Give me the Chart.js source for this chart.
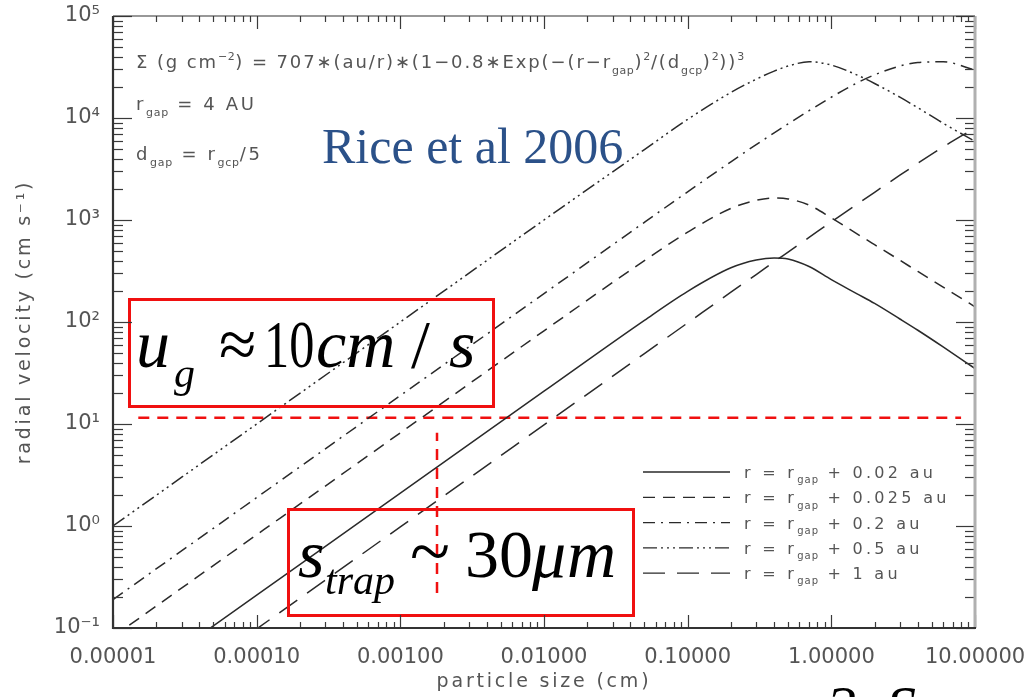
<!DOCTYPE html>
<html>
<head>
<meta charset="utf-8">
<script src="https://cdn.jsdelivr.net/npm/chart.js@4.4.1/dist/chart.umd.min.js"></script>
<style>
  html, body { margin: 0; padding: 0; background: #fff; }
  canvas { display: block; }
</style>
</head>
<body>
<canvas id="velChart" width="1030" height="697"></canvas>
<script>
// particle size grid (cm), shared by every curve
const sizeCm = [1e-5, 1e-4, 1e-3, 1e-2, 0.05, 0.1, 0.2, 0.3, 0.4, 0.5, 0.7, 1, 1.5, 2, 3, 4, 6, 10];

// radial velocity (cm/s) at r = r_gap + offset
const vel002 = [0.021, 0.21, 2.1, 21, 104, 200, 340, 405, 425, 415, 350, 260, 190, 152, 107, 83, 57, 35];
const vel0025 = [0.082, 0.82, 8.2, 82, 400, 760, 1300, 1560, 1645, 1610, 1400, 1050, 736, 573, 403, 313, 220, 141];
const vel02 = [0.19, 1.9, 19, 190, 950, 1890, 3720, 5480, 7150, 8750, 11800, 16000, 22000, 26500, 32300, 35000, 35600, 29500];
const vel05 = [1.0, 10, 100, 1000, 4900, 9700, 17800, 24000, 28800, 32300, 35600, 33000, 26500, 21800, 16000, 12600, 8900, 5900];
const vel1 = [0.0098, 0.098, 0.98, 9.8, 49, 98, 196, 292, 390, 485, 675, 960, 1420, 1870, 2750, 3600, 5200, 8000];

const offsetsAu = ['0.02', '0.025', '0.2', '0.5', '1'];

// gas velocity and trapping size guides
const ugX = [1.5e-5, 8];
const ugY = [11.5, 11.5];
const strapX = [0.0018, 0.0018];
const strapY = [0.22, 8.2];

const xTickValues = [1e-5, 1e-4, 1e-3, 1e-2, 1e-1, 1, 10];
const xTickLabels = ['0.00001', '0.00010', '0.00100', '0.01000', '0.10000', '1.00000', '10.00000'];
const yTickValues = [1e-1, 1, 10, 100, 1e3, 1e4, 1e5];
const yTickLabels = ['10⁻¹', '10⁰', '10¹', '10²', '10³', '10⁴', '10⁵'];

const ink = '#2a2a2a';
const grey = '#555555';
const red = '#f01010';
const sans = '"DejaVu Sans"';
const serif = '"Liberation Serif"';

function pts(xs, ys) {
  return xs.map((x, i) => ({ x: x, y: ys[i] }));
}

const dashes = [[], [12, 8], [12, 6, 2, 6], [14, 4, 2, 4, 2, 4, 2, 4], [22, 12]];
const curves = [vel002, vel0025, vel02, vel05, vel1];

const datasets = curves.map((v, i) => ({
  label: 'r = rgap + ' + offsetsAu[i] + ' au',
  data: pts(sizeCm, v),
  borderColor: ink,
  borderWidth: 1.5,
  borderDash: dashes[i],
  pointRadius: 0,
  cubicInterpolationMode: 'monotone'
}));
datasets.push({
  label: 'u_g', data: pts(ugX, ugY), borderColor: red, borderWidth: 2.5,
  borderDash: [11, 8], pointRadius: 0
});
datasets.push({
  label: 's_trap', data: pts(strapX, strapY), borderColor: red, borderWidth: 2.5,
  borderDash: [11, 8], pointRadius: 0
});

// text with sub/superscripts: kind 'n' normal, 'b' below, 'p' power
function drawRich(ctx, x, y, parts, size, spacing) {
  parts.forEach(([text, kind]) => {
    const small = kind !== 'n';
    const fs = small ? Math.round(size * 0.62) : size;
    const dy = kind === 'b' ? size * 0.33 : kind === 'p' ? -size * 0.45 : 0;
    ctx.font = fs + 'px ' + sans;
    ctx.letterSpacing = (small ? spacing * 0.3 : spacing) + 'px';
    ctx.fillText(text, x, y + dy);
    x += ctx.measureText(text).width;
  });
  ctx.letterSpacing = '0px';
  return x;
}

function seg(ctx, text, x, y, font, sx) {
  ctx.font = font;
  if (sx) {
    ctx.save();
    ctx.translate(x, y);
    ctx.scale(sx, 1);
    ctx.fillText(text, 0, 0);
    ctx.restore();
  } else {
    ctx.fillText(text, x, y);
  }
}

const decorations = {
  id: 'decorations',
  afterDatasetsDraw(chart) {
    const ctx = chart.ctx;
    const a = chart.chartArea;
    ctx.save();
    ctx.textBaseline = 'alphabetic';
    ctx.textAlign = 'left';

    // surface density note
    ctx.fillStyle = grey;
    drawRich(ctx, 136, 68, [
      ['Σ (g cm', 'n'], ['−2', 'p'], [') = 707∗(au/r)∗(1−0.8∗Exp(−(r−r', 'n'], ['gap', 'b'],
      [')', 'n'], ['2', 'p'], ['/(d', 'n'], ['gcp', 'b'], [')', 'n'], ['2', 'p'], ['))', 'n'], ['3', 'p']
    ], 18, 1.9);
    drawRich(ctx, 136, 110, [['r', 'n'], ['gap', 'b'], [' = 4 AU', 'n']], 18, 2.6);
    drawRich(ctx, 136, 160, [['d', 'n'], ['gap', 'b'], [' = r', 'n'], ['gcp', 'b'], ['/5', 'n']], 18, 2.6);

    ctx.fillStyle = '#2b5189';
    seg(ctx, 'Rice et al 2006', 322, 163, '50px ' + serif);

    // legend
    const rows = chart.data.datasets.slice(0, 5);
    rows.forEach((ds, i) => {
      const yy = 472 + i * 25.3;
      ctx.save();
      ctx.strokeStyle = ink;
      ctx.lineWidth = 1.3;
      ctx.setLineDash(ds.borderDash);
      ctx.beginPath();
      ctx.moveTo(643, yy);
      ctx.lineTo(730, yy);
      ctx.stroke();
      ctx.restore();
      ctx.fillStyle = grey;
      drawRich(ctx, 744, yy + 6, [['r = r', 'n'], ['gap', 'b'], [' + ' + offsetsAu[i] + ' au', 'n']], 16, 3.3);
    });

    // boxed estimates
    ctx.strokeStyle = red;
    ctx.lineWidth = 3;
    ctx.setLineDash([]);
    ctx.strokeRect(129.5, 299.5, 364, 107);
    ctx.strokeRect(288.5, 509.5, 345, 106);

    ctx.fillStyle = '#000';
    seg(ctx, 'u', 136, 367, 'italic 68px ' + serif);
    seg(ctx, 'g', 174, 387, 'italic 42px ' + serif);
    seg(ctx, '≈', 219, 367, '68px ' + serif);
    seg(ctx, '10', 264, 367, '68px ' + serif, 0.74);
    seg(ctx, 'cm', 316, 367, 'italic 68px ' + serif);
    seg(ctx, '/', 411, 367, '68px ' + serif);
    seg(ctx, 's', 449, 367, 'italic 68px ' + serif);

    seg(ctx, 's', 298, 577, 'italic 68px ' + serif);
    seg(ctx, 'trap', 325, 594, 'italic 42px ' + serif);
    seg(ctx, '~', 410, 576, '74px ' + serif);
    seg(ctx, '30', 465, 577, '68px ' + serif);
    seg(ctx, 'μ', 532, 577, 'italic 68px ' + serif);
    seg(ctx, 'm', 567, 577, 'italic 68px ' + serif);

    seg(ctx, '2', 826, 727, 'italic 60px ' + serif);
    seg(ctx, 'S', 886, 727, 'italic 60px ' + serif);

    // axis titles
    ctx.fillStyle = grey;
    ctx.font = '19px ' + sans;
    ctx.letterSpacing = '2.8px';
    ctx.textAlign = 'center';
    ctx.textBaseline = 'middle';
    ctx.fillText('particle size (cm)', (a.left + a.right) / 2, 682);
    ctx.save();
    ctx.translate(25, (a.top + a.bottom) / 2);
    ctx.rotate(-Math.PI / 2);
    ctx.fillText('radial velocity (cm s⁻¹)', 0, 0);
    ctx.restore();
    ctx.letterSpacing = '0px';
    ctx.restore();
  },
  afterDraw(chart) {
    const { ctx, chartArea: a, scales: { x, y } } = chart;
    ctx.save();
    const line = (x0, y0, x1, y1) => {
      ctx.beginPath();
      ctx.moveTo(x0, y0);
      ctx.lineTo(x1, y1);
      ctx.stroke();
    };
    // log tick marks pointing inward on all four sides
    ctx.strokeStyle = '#3a3a3a';
    ctx.lineWidth = 1.2;
    for (let e = -5; e <= 1; e++) {
      for (let m = 1; m <= 9; m++) {
        const v = m * Math.pow(10, e);
        if (v < 1e-5 * 0.999 || v > 10 * 1.001) continue;
        const px = Math.round(x.getPixelForValue(v)) + 0.5;
        const len = m === 1 ? 13 : 6;
        line(px, a.bottom, px, a.bottom - len);
        line(px, a.top, px, a.top + len);
      }
    }
    for (let e = -1; e <= 5; e++) {
      for (let m = 1; m <= 9; m++) {
        const v = m * Math.pow(10, e);
        if (v < 0.1 * 0.999 || v > 1e5 * 1.001) continue;
        const py = Math.round(y.getPixelForValue(v)) + 0.5;
        const len = m === 1 ? 19 : 10;
        line(a.left, py, a.left + len, py);
        line(a.right, py, a.right - len, py);
      }
    }
    // frame
    ctx.strokeStyle = '#b0b0b0';
    ctx.lineWidth = 3;
    line(a.right, a.top, a.right, a.bottom);
    ctx.strokeStyle = '#333';
    ctx.lineWidth = 1.2;
    line(a.left, a.top, a.right, a.top);
    ctx.lineWidth = 2.2;
    line(a.left, a.top, a.left, a.bottom + 1);
    line(a.left - 1, a.bottom, a.right + 1, a.bottom);
    ctx.restore();
  }
};

// tick marks themselves come from the plugin; the library ticks only carry the labels
const hiddenTicks = (len) => ({
  display: true,
  drawOnChartArea: false,
  drawTicks: true,
  tickLength: len,
  color: 'rgba(0,0,0,0)'
});

new Chart(document.getElementById('velChart'), {
  type: 'line',
  data: { datasets: datasets },
  options: {
    responsive: false,
    animation: false,
    devicePixelRatio: 1,
    layout: { padding: { left: 0, top: 16, right: 55, bottom: 0 } },
    plugins: { legend: { display: false }, tooltip: { enabled: false } },
    scales: {
      x: {
        type: 'logarithmic',
        min: 1e-5,
        max: 10,
        grid: hiddenTicks(17),
        border: { display: false },
        afterBuildTicks: (s) => { s.ticks = xTickValues.map(v => ({ value: v })); },
        afterFit: (s) => { s.height = 69; },
        ticks: {
          autoSkip: false,
          maxRotation: 0,
          padding: 0,
          color: grey,
          font: { family: 'DejaVu Sans', size: 21 },
          callback: (v, i) => xTickLabels[i]
        }
      },
      y: {
        type: 'logarithmic',
        min: 0.1,
        max: 1e5,
        grid: hiddenTicks(13),
        border: { display: false },
        afterBuildTicks: (s) => { s.ticks = yTickValues.map(v => ({ value: v })); },
        afterFit: (s) => { s.width = 113; },
        ticks: {
          autoSkip: false,
          padding: 0,
          color: grey,
          font: { family: 'DejaVu Sans', size: 21 },
          callback: (v, i) => yTickLabels[i]
        }
      }
    }
  },
  plugins: [decorations]
});
</script>
</body>
</html>
